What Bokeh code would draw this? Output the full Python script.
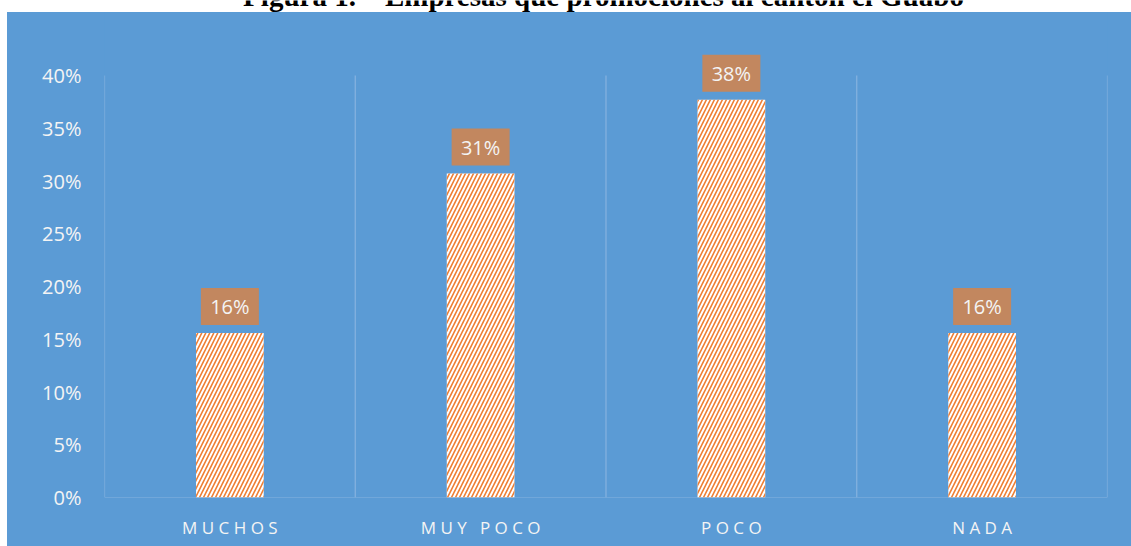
from bokeh.plotting import figure
from bokeh.models import ColumnDataSource, FixedTicker, NumeralTickFormatter, Range1d, Spacer
from bokeh.layouts import column, row
from bokeh.core.properties import value
from bokeh.embed import file_html
from bokeh.resources import INLINE

# ---- data ----
title_text = "Figura 1. – Empresas que promociones al cantón el Guabo"
categories = ["MUCHOS", "MUY POCO", "POCO", "NADA"]
shares = [0.156, 0.307, 0.377, 0.156]
y_ticks = [0.0, 0.05, 0.10, 0.15, 0.20, 0.25, 0.30, 0.35, 0.40]

# ---- style ----
BLUE = "#5b9bd5"
GRIDC = "#87b3e0"
BOXC = "#c2875f"
FONT = "Open Sans"
PAGE_W = 1131
LEFT_PAD = 7
TOP_H = 12
W = PAGE_W - LEFT_PAD
MAIN_H = 534
BOTTOM = 49
FRAME_H = MAIN_H - BOTTOM
PX_PER_UNIT = 422 / 0.40
y_end = FRAME_H / PX_PER_UNIT


def spaced(s):
    return "\u00a0\u00a0\u00a0".join(" ".join(w) for w in s.split(" "))


xs = [i + 0.5 for i in range(len(categories))]
labels = [f"{round(v * 100)}%" for v in shares]
label_y = [v + 26.5 / PX_PER_UNIT for v in shares]
src = ColumnDataSource(dict(x=xs, top=shares, ly=label_y, lab=labels))

# ---- title strip (cropped at the top, as in the reference) ----
t = figure(width=PAGE_W, height=TOP_H, x_range=Range1d(0, PAGE_W), y_range=Range1d(0, TOP_H),
           output_backend="svg", toolbar_location=None, min_border=0,
           x_axis_location=None, y_axis_location=None)
t.grid.visible = False
t.outline_line_color = None
t.background_fill_color = "white"
t.border_fill_color = "white"
t.text(x=[603], y=[17], text=[title_text], text_align="center",
       text_baseline="alphabetic", text_font=value("Liberation Serif"),
       text_font_style="bold", text_font_size="29px", text_color="black")

# ---- main chart ----
p = figure(width=W, height=MAIN_H, x_range=Range1d(0, len(categories)),
           y_range=Range1d(0, y_end), output_backend="svg", toolbar_location=None,
           min_border_left=97, min_border_right=24, min_border_top=0,
           min_border_bottom=BOTTOM)
p.background_fill_color = BLUE
p.border_fill_color = BLUE
p.outline_line_color = None
p.grid.visible = False
p.styles = {"background-color": BLUE}

n = len(categories)
p.segment(x0=list(range(n + 1)), y0=[0] * (n + 1), x1=list(range(n + 1)),
          y1=[y_ticks[-1]] * (n + 1), line_color=GRIDC, line_width=1.2)
p.segment(x0=[0], y0=[0], x1=[n], y1=[0], line_color=GRIDC, line_width=1.2)

p.vbar(x="x", top="top", width=0.27, source=src, fill_color="white",
       hatch_pattern="/", hatch_color="#ee7d31", hatch_scale=8, hatch_weight=1.6,
       line_color=None)

p.rect(x="x", y="ly", width=58, height=37, width_units="screen",
       height_units="screen", source=src, fill_color=BOXC, line_color=None)
p.text(x="x", y="ly", text="lab", source=src, text_align="center",
       text_baseline="middle", text_font=value(FONT), text_font_size="20px",
       text_color="#f4f4f4")

p.yaxis.ticker = FixedTicker(ticks=y_ticks)
p.yaxis.formatter = NumeralTickFormatter(format="0%")
p.yaxis.major_label_text_font = FONT
p.yaxis.major_label_text_font_size = "20px"
p.yaxis.major_label_text_color = "#f4f4f4"
p.yaxis.axis_line_color = None
p.yaxis.major_tick_line_color = None
p.yaxis.minor_tick_line_color = None
p.yaxis.major_label_standoff = 17

p.xaxis.ticker = FixedTicker(ticks=xs)
p.xaxis.major_label_overrides = {x: spaced(c) for x, c in zip(xs, categories)}
p.xaxis.major_label_text_font = FONT
p.xaxis.major_label_text_font_size = "17px"
p.xaxis.major_label_text_color = "#f4f4f4"
p.xaxis.axis_line_color = None
p.xaxis.major_tick_line_color = None
p.xaxis.minor_tick_line_color = None
p.xaxis.major_label_standoff = 12

layout = column(t, row(Spacer(width=LEFT_PAD, height=MAIN_H), p, spacing=0), spacing=0)
open("out.html", "w").write(file_html(layout, INLINE))
